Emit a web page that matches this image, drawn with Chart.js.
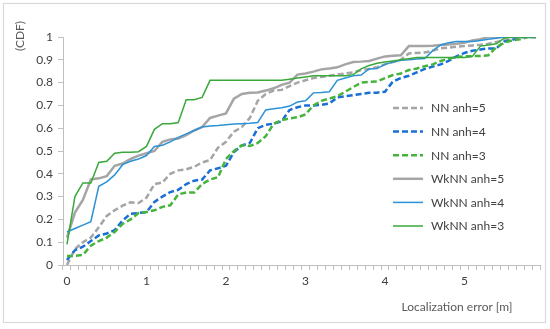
<!DOCTYPE html>
<html><head><meta charset="utf-8">
<script src="https://cdn.jsdelivr.net/npm/chart.js@4.4.1/dist/chart.umd.min.js"></script>
<style>html,body{margin:0;padding:0;background:#fff}canvas{display:block}</style>
</head><body>
<canvas id="c" width="550" height="329"></canvas>
<script>
const categories = ["0","0.1","0.2","0.3","0.4","0.5","0.6","0.7","0.8","0.9",
"1","1.1","1.2","1.3","1.4","1.5","1.6","1.7","1.8","1.9",
"2","2.1","2.2","2.3","2.4","2.5","2.6","2.7","2.8","2.9",
"3","3.1","3.2","3.3","3.4","3.5","3.6","3.7","3.8","3.9",
"4","4.1","4.2","4.3","4.4","4.5","4.6","4.7","4.8","4.9",
"5","5.1","5.2","5.3","5.4","5.5","5.6","5.7","5.8","5.9"];
const xTickLabels = ["0","1","2","3","4","5"];
const yTicks = [0,0.1,0.2,0.3,0.4,0.5,0.6,0.7,0.8,0.9,1];
const seriesNames = ["NN anh=5","NN anh=4","NN anh=3","WkNN anh=5","WkNN anh=4","WkNN anh=3"];

const nnAnh5 = [0.00,0.07,0.10,0.12,0.165,0.215,0.24,0.26,0.275,0.272,
0.295,0.355,0.362,0.40,0.415,0.42,0.43,0.45,0.46,0.515,
0.54,0.585,0.605,0.645,0.72,0.75,0.765,0.768,0.785,0.80,
0.81,0.82,0.825,0.83,0.835,0.84,0.845,0.855,0.86,0.868,
0.88,0.89,0.90,0.928,0.93,0.932,0.94,0.95,0.953,0.957,
0.96,0.963,0.966,0.97,0.978,0.985,0.99,1,1,1];
const nnAnh4 = [0.022,0.065,0.08,0.105,0.13,0.138,0.153,0.195,0.225,0.228,
0.232,0.277,0.30,0.32,0.33,0.355,0.37,0.375,0.415,0.424,
0.435,0.495,0.525,0.535,0.60,0.615,0.62,0.63,0.68,0.692,
0.70,0.70,0.702,0.708,0.735,0.74,0.745,0.75,0.755,0.756,
0.76,0.805,0.82,0.83,0.845,0.86,0.87,0.88,0.895,0.915,
0.93,0.94,0.945,0.95,0.95,0.98,0.987,1,1,1];
const nnAnh3 = [0.04,0.04,0.044,0.085,0.105,0.12,0.145,0.18,0.20,0.228,
0.232,0.24,0.255,0.262,0.31,0.318,0.318,0.355,0.375,0.385,
0.465,0.50,0.525,0.522,0.535,0.565,0.62,0.635,0.643,0.648,
0.66,0.70,0.72,0.73,0.74,0.76,0.78,0.80,0.803,0.805,
0.82,0.833,0.84,0.855,0.862,0.872,0.88,0.895,0.905,0.912,
0.915,0.916,0.917,0.92,0.955,0.975,0.985,0.99,1,1];
const wknnAnh5 = [0.12,0.23,0.285,0.375,0.38,0.39,0.435,0.445,0.465,0.48,
0.49,0.50,0.54,0.55,0.555,0.57,0.59,0.605,0.645,0.655,
0.665,0.73,0.75,0.755,0.757,0.765,0.775,0.79,0.80,0.835,
0.84,0.848,0.858,0.862,0.867,0.88,0.89,0.892,0.895,0.905,
0.915,0.918,0.92,0.96,0.96,0.96,0.962,0.965,0.967,0.97,
0.975,0.985,0.99,1,1,1,1,1,1,1];
const wknnAnh4 = [0.145,0.16,0.175,0.19,0.345,0.365,0.395,0.44,0.455,0.465,
0.48,0.52,0.525,0.54,0.56,0.575,0.59,0.605,0.61,0.612,
0.615,0.618,0.62,0.622,0.625,0.68,0.685,0.69,0.697,0.715,
0.72,0.755,0.757,0.76,0.81,0.82,0.83,0.833,0.86,0.862,
0.88,0.89,0.898,0.90,0.903,0.906,0.94,0.965,0.975,0.98,
0.98,0.98,0.985,0.99,0.995,1,1,1,1,1];
const wknnAnh3 = [0.09,0.30,0.36,0.36,0.45,0.455,0.49,0.495,0.495,0.497,
0.52,0.595,0.62,0.62,0.625,0.725,0.725,0.735,0.81,0.81,
0.81,0.81,0.81,0.81,0.81,0.81,0.81,0.81,0.815,0.82,
0.825,0.83,0.83,0.83,0.83,0.83,0.835,0.86,0.875,0.885,
0.89,0.895,0.90,0.905,0.91,0.91,0.91,0.91,0.91,0.91,
0.91,0.915,0.96,0.965,0.97,0.995,1,1,1,1];

const seriesData = [nnAnh5, nnAnh4, nnAnh3, wknnAnh5, wknnAnh4, wknnAnh3];
const styles = [
  {color:'#a5a5a5', width:2.5, dash:[6,3]},
  {color:'#1a6fd6', width:2.5, dash:[6,3]},
  {color:'#46b43c', width:2.5, dash:[6,3]},
  {color:'#a5a5a5', width:2.5, dash:[]},
  {color:'#2b92d8', width:1.5, dash:[]},
  {color:'#3aa83a', width:1.5, dash:[]}
];

Chart.defaults.font.family = 'Lato, "Liberation Sans", sans-serif';
Chart.defaults.font.size = 12;
Chart.defaults.color = '#595959';

const AXIS = '#bfbfbf';

const decor = {
  id: 'decor',
  beforeDraw(chart) {
    const ctx = chart.ctx;
    ctx.save();
    ctx.fillStyle = '#fff';
    ctx.fillRect(0, 0, chart.width, chart.height);
    ctx.restore();
  },
  afterDraw(chart) {
    const ctx = chart.ctx;
    ctx.save();
    // outer border
    ctx.strokeStyle = '#d9d9d9';
    ctx.lineWidth = 1.2;
    ctx.strokeRect(3.5, 3.5, 542, 319);
    // y title
    ctx.fillStyle = '#595959';
    ctx.font = '12px Lato, "Liberation Sans", sans-serif';
    ctx.save();
    ctx.translate(20, 36);
    ctx.rotate(-Math.PI / 2);
    ctx.textAlign = 'center';
    ctx.textBaseline = 'middle';
    ctx.fillText('(CDF)', 0, 0);
    ctx.restore();
    // x title
    ctx.textAlign = 'center';
    ctx.textBaseline = 'middle';
    ctx.fillText('Localization error [m]', 457, 307);
    // legend
    const lx0 = 393, lx1 = 423, tx = 431, ly0 = 108, dy = 23.6;
    chart.data.datasets.forEach((ds, i) => {
      const y = ly0 + i * dy;
      ctx.beginPath();
      ctx.strokeStyle = ds.borderColor;
      ctx.lineWidth = ds.borderWidth;
      ctx.setLineDash(ds.borderDash || []);
      ctx.moveTo(lx0, y);
      ctx.lineTo(lx1, y);
      ctx.stroke();
      ctx.setLineDash([]);
      ctx.fillStyle = '#404040';
      ctx.textAlign = 'left';
      ctx.textBaseline = 'middle';
      ctx.fillText(ds.label, tx, y + 0.5);
    });
    ctx.restore();
  }
};

const datasets = seriesData.map((d, i) => ({
  label: seriesNames[i],
  data: d,
  borderColor: styles[i].color,
  backgroundColor: styles[i].color,
  borderWidth: styles[i].width,
  borderDash: styles[i].dash,
  pointRadius: 0,
  tension: 0,
  fill: false,
  order: seriesData.length - i
}));

new Chart(document.getElementById('c'), {
  type: 'line',
  data: { labels: categories, datasets },
  options: {
    responsive: false,
    animation: false,
    devicePixelRatio: 1,
    layout: { padding: { left: 0, top: 37, right: 10, bottom: 0 } },
    plugins: { legend: { display: false }, tooltip: { enabled: false } },
    scales: {
      x: {
        type: 'category',
        offset: true,
        grid: { offset: true, drawOnChartArea: false, drawTicks: true, tickLength: 5, color: AXIS },
        border: { display: true, color: AXIS, width: 1 },
        ticks: {
          autoSkip: false, maxRotation: 0, minRotation: 0, padding: 4, color: '#404040',
          callback: function(v, idx) { return xTickLabels.includes(categories[idx]) ? categories[idx] : ''; }
        },
        afterFit(scale) { scale.height = 329 - 265; }
      },
      y: {
        min: 0, max: 1,
        afterBuildTicks(scale) { scale.ticks = yTicks.map(v => ({ value: v })); },
        grid: { drawOnChartArea: false, drawTicks: true, tickLength: 5, color: AXIS },
        border: { display: true, color: AXIS, width: 1 },
        ticks: { padding: 5, color: '#404040', callback: v => String(+v.toFixed(1)) },
        afterFit(scale) { scale.width = 63; }
      }
    }
  },
  plugins: [decor]
});
</script>
</body></html>
